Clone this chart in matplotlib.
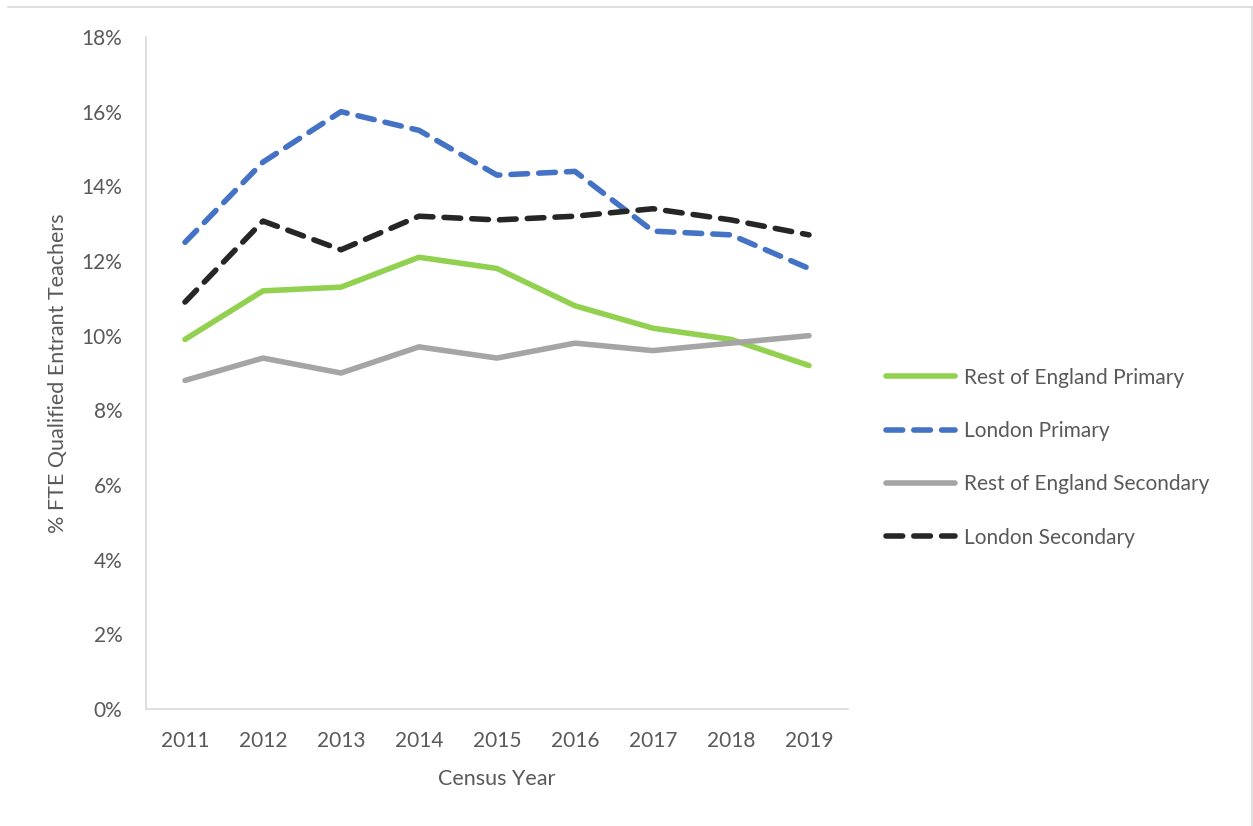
import numpy as np
import matplotlib
matplotlib.use("Agg")
from matplotlib import pyplot as plt
from matplotlib.ticker import FuncFormatter
from matplotlib.lines import Line2D

# Share of FTE qualified entrant teachers by census year
years = ["2011", "2012", "2013", "2014", "2015", "2016", "2017", "2018", "2019"]
rest_primary = [9.9, 11.2, 11.3, 12.1, 11.8, 10.8, 10.2, 9.9, 9.2]
london_primary = [12.5, 14.65, 16.0, 15.5, 14.3, 14.4, 12.8, 12.7, 11.8]
rest_secondary = [8.8, 9.4, 9.0, 9.7, 9.4, 9.8, 9.6, 9.8, 10.0]
london_secondary = [10.9, 13.07, 12.3, 13.2, 13.1, 13.2, 13.4, 13.1, 12.7]

plt.rcParams['font.family'] = ['Lato', 'DejaVu Sans']
txt = '#595959'

fig = plt.figure(figsize=(12.53, 8.26), dpi=100)
ax = fig.add_axes([146/1253, 1 - 709/826, (848-146)/1253, (709-37)/826])

x = np.arange(len(years))
lw = 4
ax.plot(x, rest_primary, color='#92d050', lw=lw, solid_capstyle='round', label='Rest of England Primary')
ax.plot(x, london_primary, color='#4472c4', lw=lw, ls=(0, (3, 2)), dash_capstyle='round', label='London Primary')
ax.plot(x, rest_secondary, color='#a5a5a5', lw=lw, solid_capstyle='round', label='Rest of England Secondary')
ax.plot(x, london_secondary, color='#262626', lw=lw, ls=(0, (3, 2)), dash_capstyle='round', label='London Secondary')

ax.set_xlim(-0.5, len(years) - 0.5)
ax.set_ylim(0, 18)
ax.set_yticks(np.arange(0, 19, 2))
ax.yaxis.set_major_formatter(FuncFormatter(lambda v, p: f"{v:.0f}%"))
ax.set_xticks(x)
ax.set_xticklabels(years)

for s in ['top', 'right']:
    ax.spines[s].set_visible(False)
for s in ['left', 'bottom']:
    ax.spines[s].set_color('#d9d9d9')
    ax.spines[s].set_linewidth(1.2)
ax.tick_params(length=0, labelsize=15, colors=txt)
ax.tick_params(axis='x', pad=16)
ax.tick_params(axis='y', pad=17)

ax.set_xlabel('Census Year', fontsize=15.5, color=txt, labelpad=13)
ax.set_ylabel('% FTE Qualified Entrant Teachers', fontsize=15.5, color=txt, labelpad=10)

leg = ax.legend(loc='center left', bbox_to_anchor=(1.028, 0.374), frameon=False,
                fontsize=15, handlelength=3.3, handletextpad=0.43, labelspacing=1.6)
for t in leg.get_texts():
    t.set_color(txt)

# outer chart border (top and right edges)
fig.add_artist(Line2D([8/1253, 1251.5/1253], [1 - 7/826, 1 - 7/826], transform=fig.transFigure,
                      color='#d9d9d9', lw=1.2))
fig.add_artist(Line2D([1251.5/1253, 1251.5/1253], [0, 1 - 7/826], transform=fig.transFigure,
                      color='#d9d9d9', lw=1.2))

fig.savefig('out.png', dpi=100)
